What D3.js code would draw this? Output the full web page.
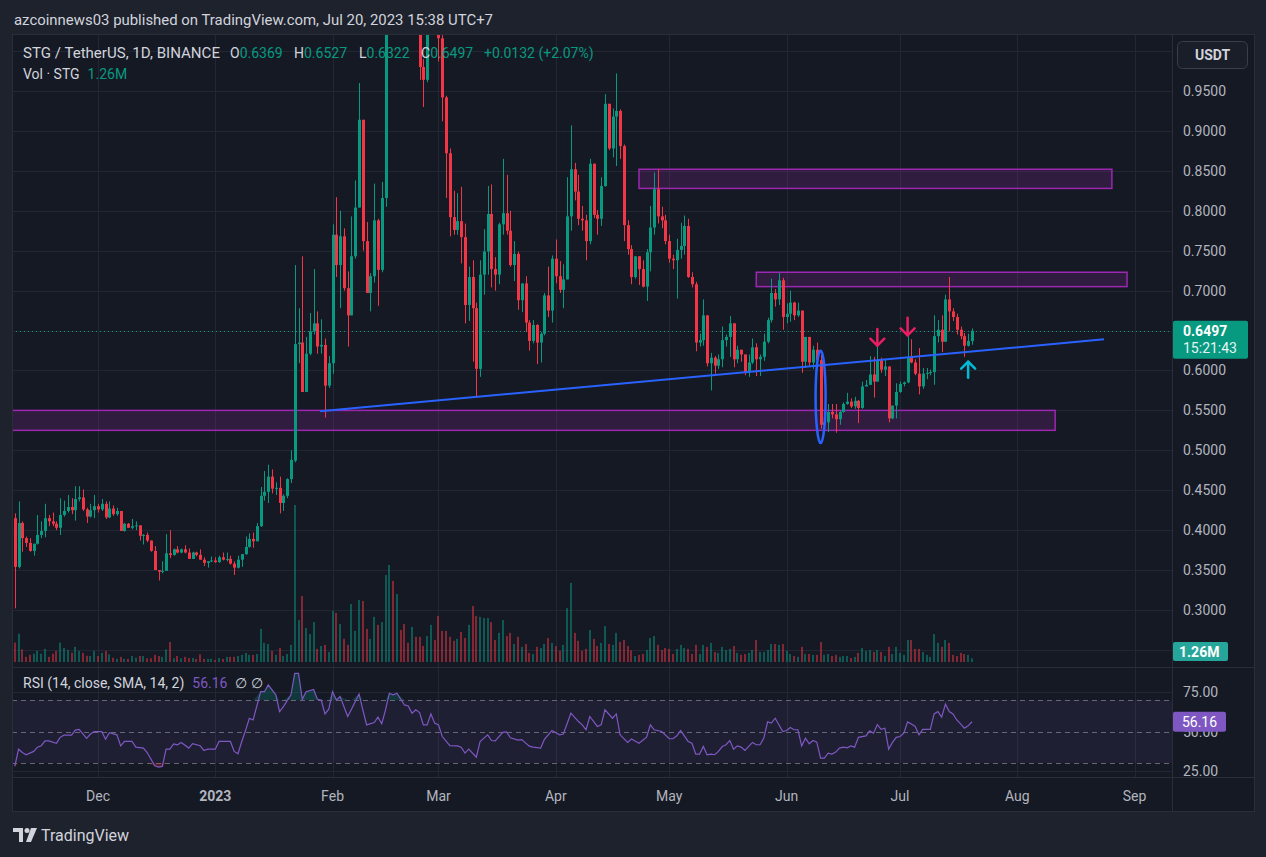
<!DOCTYPE html>
<html><head><meta charset="utf-8">
<script src="https://cdn.jsdelivr.net/npm/d3@7"></script>
<style>
html,body{margin:0;padding:0;background:#1e222d;}
svg{display:block;}
text{font-family:Roboto,"Liberation Sans",sans-serif;}
</style></head><body>
<svg id="chart" width="1266" height="857"></svg>
<script>
// ---------------- DATA ----------------
const firstDay = "2022-11-09"; // daily candles, one per day
// [open, high, low, close]
const ohlc = [
[.415,.421,.302,.354],[.354,.436,.352,.409],[.409,.411,.373,.390],[.390,.392,.379,.384],[.384,.390,.373,.374],
[.374,.383,.368,.383],[.383,.419,.382,.394],[.394,.411,.390,.399],[.399,.433,.391,.415],[.415,.419,.405,.411],
[.411,.422,.405,.408],[.408,.411,.400,.403],[.403,.440,.394,.419],[.419,.437,.417,.424],[.424,.444,.422,.429],
[.429,.440,.420,.425],[.425,.455,.412,.439],[.439,.455,.436,.441],[.441,.451,.424,.426],[.426,.428,.409,.417],
[.417,.433,.416,.425],[.425,.444,.415,.430],[.430,.433,.422,.426],[.426,.439,.424,.433],[.433,.436,.414,.416],
[.416,.436,.415,.427],[.427,.431,.418,.420],[.420,.428,.418,.424],[.424,.424,.399,.399],[.399,.409,.398,.408],
[.408,.409,.403,.403],[.403,.414,.401,.405],[.405,.411,.400,.406],[.406,.406,.387,.393],[.393,.395,.382,.394],
[.394,.397,.385,.387],[.387,.387,.373,.374],[.374,.380,.350,.350],[.350,.350,.337,.348],[.348,.361,.346,.349],
[.349,.395,.349,.371],[.371,.400,.365,.369],[.369,.377,.368,.376],[.376,.380,.371,.372],[.372,.377,.371,.376],
[.376,.381,.371,.372],[.372,.377,.364,.364],[.364,.373,.364,.372],[.372,.373,.367,.369],[.369,.376,.363,.363],
[.363,.366,.355,.359],[.359,.361,.353,.361],[.361,.367,.360,.362],[.362,.366,.359,.360],[.360,.368,.359,.366],
[.366,.372,.362,.363],[.363,.372,.361,.364],[.364,.368,.357,.358],[.358,.361,.344,.353],[.353,.368,.352,.363],
[.363,.370,.354,.370],[.370,.392,.369,.379],[.379,.396,.378,.389],[.389,.397,.378,.386],[.386,.409,.386,.405],
[.405,.454,.404,.443],[.443,.474,.437,.448],[.448,.482,.434,.467],[.467,.476,.446,.452],[.452,.460,.444,.453],
[.453,.467,.421,.434],[.434,.445,.424,.443],[.443,.465,.440,.464],[.464,.500,.459,.488],[.487,.732,.485,.633],
[.633,.678,.609,.635],[.635,.743,.573,.573],[.573,.642,.573,.621],[.621,.672,.619,.649],[.649,.727,.645,.659],
[.659,.674,.621,.630],[.630,.664,.621,.632],[.632,.640,.541,.581],[.581,.618,.578,.609],[.609,.783,.596,.770],
[.770,.817,.717,.732],[.732,.800,.678,.768],[.768,.778,.700,.703],[.703,.724,.630,.669],[.669,.793,.669,.743],
[.743,.838,.740,.804],[.804,.960,.804,.914],[.914,.914,.750,.762],[.762,.786,.697,.697],[.697,.722,.674,.718],
[.718,.834,.710,.788],[.788,.790,.681,.726],[.726,.836,.723,.816],[.816,1.09,.805,1.06],[1.06,1.19,1.05,1.15],
[1.15,1.17,1.07,1.10],[1.10,1.20,1.08,1.16],[1.16,1.18,1.09,1.11],[1.11,1.13,1.05,1.08],[1.08,1.10,1.04,1.06],
[1.06,1.12,1.04,1.10],[1.10,1.12,1.04,1.06],[1.06,1.08,.964,.980],[.980,.990,.930,.964],[.964,1.06,.961,1.04],
[1.04,1.09,1.03,1.07],[1.07,1.08,1.03,1.05],[1.05,1.06,.987,1.016],[1.016,1.03,.912,.942],[.942,.944,.816,.872],
[.872,.878,.768,.792],[.792,.825,.770,.776],[.776,.822,.770,.787],[.787,.830,.734,.767],[.767,.784,.659,.682],
[.682,.730,.662,.717],[.717,.738,.611,.678],[.678,.685,.566,.602],[.602,.738,.592,.720],[.720,.777,.695,.749],
[.749,.831,.720,.796],[.796,.833,.704,.727],[.727,.742,.700,.720],[.720,.785,.708,.783],[.783,.865,.770,.797],
[.797,.845,.770,.775],[.775,.800,.730,.732],[.732,.762,.712,.746],[.746,.749,.676,.688],[.688,.709,.673,.709],
[.709,.718,.648,.660],[.660,.663,.625,.637],[.637,.663,.634,.657],[.657,.658,.608,.635],[.635,.648,.610,.646],
[.646,.697,.644,.694],[.694,.730,.667,.675],[.675,.744,.660,.740],[.740,.764,.709,.718],[.718,.737,.697,.701],
[.701,.733,.678,.714],[.714,.842,.714,.793],[.793,.907,.775,.852],[.852,.860,.813,.824],[.824,.845,.782,.790],
[.790,.806,.775,.788],[.788,.795,.738,.762],[.762,.865,.758,.859],[.859,.859,.791,.795],[.795,.801,.770,.790],
[.790,.842,.781,.831],[.831,.946,.830,.934],[.934,.934,.876,.878],[.878,.928,.867,.918],[.918,.972,.856,.925],
[.925,.927,.865,.881],[.881,.883,.762,.782],[.782,.788,.745,.752],[.752,.757,.708,.717],[.717,.743,.715,.743],
[.743,.743,.707,.727],[.727,.738,.704,.705],[.705,.752,.687,.748],[.748,.806,.724,.779],[.779,.848,.770,.827],
[.827,.852,.784,.793],[.793,.805,.778,.788],[.788,.795,.758,.762],[.762,.770,.735,.740],[.740,.745,.727,.738],
[.738,.765,.690,.751],[.751,.785,.740,.756],[.756,.794,.745,.781],[.781,.790,.716,.717],[.717,.723,.704,.708],
[.708,.711,.624,.635],[.635,.646,.630,.638],[.638,.689,.631,.669],[.669,.669,.605,.609],[.609,.622,.575,.616],
[.616,.618,.596,.606],[.606,.620,.602,.614],[.614,.655,.604,.638],[.638,.645,.630,.642],[.642,.668,.617,.659],
[.659,.659,.604,.614],[.614,.631,.609,.626],[.626,.626,.611,.620],[.620,.620,.594,.598],[.598,.620,.592,.610],
[.610,.640,.608,.629],[.629,.634,.593,.614],[.614,.620,.593,.617],[.617,.646,.612,.636],[.636,.666,.634,.663],
[.663,.715,.660,.697],[.697,.702,.680,.689],[.689,.722,.682,.713],[.713,.716,.651,.667],[.667,.684,.659,.671],
[.671,.700,.661,.685],[.685,.686,.663,.669],[.669,.685,.667,.675],[.675,.675,.597,.611],[.611,.642,.603,.642],
[.642,.642,.605,.610],[.610,.631,.602,.626],[.626,.635,.608,.613],[.613,.620,.527,.532],[.532,.546,.526,.535],
[.535,.558,.523,.548],[.548,.558,.540,.545],[.545,.558,.522,.539],[.539,.550,.532,.548],[.548,.560,.547,.558],
[.558,.572,.557,.561],[.561,.565,.553,.555],[.555,.567,.552,.562],[.562,.563,.534,.553],[.553,.586,.552,.580],
[.580,.588,.580,.582],[.582,.618,.582,.595],[.595,.617,.566,.586],[.586,.631,.586,.613],[.613,.616,.597,.601],
[.601,.614,.593,.605],[.605,.605,.535,.540],[.540,.556,.539,.556],[.556,.584,.540,.573],[.573,.586,.572,.583],
[.583,.586,.580,.585],[.585,.643,.584,.617],[.617,.639,.609,.610],[.610,.614,.594,.596],[.596,.628,.570,.580],
[.580,.603,.577,.596],[.596,.603,.589,.597],[.597,.601,.594,.598],[.598,.669,.582,.643],[.643,.663,.635,.651],
[.651,.669,.623,.636],[.636,.695,.636,.689],[.689,.717,.649,.674],[.674,.678,.662,.667],[.667,.671,.645,.651],
[.651,.655,.639,.643],[.643,.647,.617,.631],[.631,.646,.630,.6369],[.6369,.6527,.6322,.6497]
];
// volume, millions of STG
const volume = [
6.8,9.9,4.4,1.8,2.5,2.9,3.9,2.9,4.6,1.8, 2.9,3.9,6.8,4.9,4.2,3.3,5.3,3.9,3.2,2.2,
2.1,3.9,2.1,3.2,3.9,2.7,1.5,1.1,1.8,1.1, 1.1,2.1,1.5,2.1,2.1,1.3,1.3,2.5,2.1,1.8,
4.4,7.0,1.3,2.1,1.3,1.8,1.4,1.4,1.1,2.7, 1.1,1.1,1.1,0.7,1.4,1.1,1.8,1.8,1.8,2.1,
2.5,3.2,2.5,2.5,2.8,11.6,6.7,6.3,3.9,2.5, 4.9,2.1,2.8,6.0,55.0,14.7,23.1,11.9,9.8,14.0,
4.6,5.6,6.0,3.5,17.9,17.2,13.3,8.1,6.0,20.3, 10.9,21.7,21.4,11.6,8.1,15.8,13.0,14.0,30.5,34.0,
28.4,23.8,11.2,13.3,6.7,12.3,8.8,8.8,5.6,9.1, 13.0,7.7,16.1,10.9,10.9,8.8,7.4,8.1,10.5,8.4,
13.0,19.6,16.1,15.8,15.4,15.4,14.0,7.7,10.2,14.7, 9.1,10.2,6.3,8.8,5.3,6.3,3.2,2.8,5.3,4.9,
6.3,8.4,6.7,5.6,3.9,6.0,18.9,27.7,10.2,7.4, 3.9,4.6,11.2,8.1,5.6,6.7,12.6,6.3,6.0,10.2,
7.0,7.7,5.6,4.1,2.1,2.5,2.8,4.2,8.4,9.1, 6.0,4.2,4.9,4.6,2.8,4.6,6.0,4.9,4.6,2.8,
6.0,2.8,6.0,5.3,6.7,3.5,3.2,5.3,4.2,4.6, 5.6,3.2,2.5,2.8,3.2,4.2,7.7,3.5,3.5,4.2,
6.3,6.3,6.0,6.3,3.9,2.8,2.1,1.8,5.3,2.8, 2.8,2.5,2.5,7.0,2.5,2.8,2.1,2.5,1.8,2.1,
2.1,1.4,1.8,3.2,4.9,3.9,4.2,3.5,4.2,3.5, 2.1,5.3,2.8,5.3,3.2,2.5,7.7,7.7,4.6,4.6,
3.5,2.5,1.8,9.8,6.7,5.3,7.7,6.7,2.5,2.1, 3.2,2.8,2.5,1.26
];
// RSI(14) readings: [candle number (1 = first candle), value]
const rsiPoints = [
[1,27.9],[2,38.8],[3,36.7],[4,35.3],[6,37.4],[7,40.1],[8,41.0],[9,44.1],[10,44.1],[12,42.5],[13,46.3],[14,47.7],[16,47.7],
[17,50.9],[18,51.4],[20,45.7],[21,48.4],[22,49.9],[24,49.9],[25,45.1],[26,49.3],[28,47.9],[29,40.9],[30,43.7],[32,43.7],
[33,40.1],[35,39.5],[36,36.7],[38,28.3],[39,27.5],[40,27.9],[41,38.8],[42,38.8],[43,42.1],[44,41.6],[45,43.1],[47,39.5],
[48,42.3],[50,41.0],[51,38.0],[52,38.8],[54,38.8],[55,43.7],[57,43.7],[58,43.7],[59,37.4],[60,35.9],[61,43.7],[62,50.6],
[63,58.4],[64,57.3],[66,75.2],[67,75.2],[68,79.5],[70,73.2],[71,62.6],[72,65.8],[74,73.2],[75,86.8],[76,86.8],[77,70.4],
[78,75.2],[80,76.6],[81,70.4],[82,69.9],[83,61.1],[84,64.1],[85,75.2],[86,69.9],[87,72.1],[89,59.5],[90,64.1],[92,73.8],
[93,63.7],[94,54.2],[96,55.7],[97,59.1],[98,54.9],[99,63.7],[100,74.2],[101,73.2],[102,74.2],[104,66.8],[105,66.2],
[106,61.6],[107,63.7],[108,62.0],[109,54.2],[110,54.2],[111,61.1],[112,55.3],[113,54.2],[114,46.8],[116,41.1],[118,40.9],
[119,40.1],[120,36.3],[121,38.8],[123,33.7],[124,43.7],[126,47.9],[127,44.3],[128,44.1],[130,49.5],[131,49.7],[132,46.0],
[134,44.5],[135,44.9],[137,40.7],[138,40.1],[140,39.5],[141,45.1],[143,50.6],[145,47.9],[146,48.4],[148,61.6],[150,56.3],
[151,54.2],[152,51.1],[153,59.5],[155,53.2],[156,54.2],[157,63.7],[159,58.4],[160,61.1],[161,47.9],[163,43.1],[164,45.2],
[166,42.6],[168,46.4],[169,54.2],[170,51.1],[172,50.0],[174,45.4],[175,45.4],[176,47.3],[177,50.6],[179,43.7],[180,42.6],
[181,35.7],[182,35.7],[183,40.5],[184,35.3],[185,35.7],[186,35.3],[187,37.4],[188,40.5],[189,41.6],[190,44.3],[191,38.8],
[192,40.9],[193,40.1],[194,38.0],[196,43.1],[197,41.6],[198,41.6],[199,45.8],[200,56.1],[201,55.3],[202,58.4],[204,50.0],
[205,50.6],[206,52.5],[207,51.1],[208,51.1],[209,40.9],[210,45.8],[211,42.2],[212,44.3],[213,43.3],[214,33.2],[215,33.2],
[216,36.3],[217,35.7],[218,37.0],[219,39.5],[220,40.1],[221,39.7],[222,40.9],[223,40.1],[224,46.3],[226,47.2],[227,50.4],
[228,48.9],[229,54.4],[230,51.4],[231,52.1],[232,38.8],[233,43.1],[234,46.3],[235,46.8],[236,48.9],[237,56.1],[238,54.8],
[239,53.2],[240,47.9],[241,51.4],[242,51.4],[243,51.4],[244,61.1],[245,62.6],[246,59.1],[247,67.3],[248,62.6],[249,61.1],
[250,57.3],[251,54.8],[252,52.1],[253,53.6],[254,56.16]
];
const priceTicks = [0.30,0.35,0.40,0.45,0.50,0.55,0.60,0.65,0.70,0.75,0.80,0.85,0.90,0.95];
const priceGrid = [0.25,0.30,0.35,0.40,0.45,0.50,0.55,0.60,0.65,0.70,0.75,0.80,0.85,0.90,0.95,1.00];
const monthTicks = ["2022-12-01","2023-01-01","2023-02-01","2023-03-01","2023-04-01","2023-05-01","2023-06-01","2023-07-01","2023-08-01","2023-09-01"];
const monthLabels = ["Dec","2023","Feb","Mar","Apr","May","Jun","Jul","Aug","Sep"];
const rsiLabelTicks = [75, 50, 25];
const rsiDashed = [70, 50, 30];
const lastPrice = 0.6497, lastVolume = 1.26, lastRsi = 56.16;
const zones = [
  {from:"2023-04-23", to:"2023-08-26", top:0.852, bottom:0.828},
  {from:"2023-05-24", to:"2023-08-30", top:0.723, bottom:0.705},
  {from:"2022-10-20", to:"2023-08-11", top:0.550, bottom:0.525}
];
const trendLine = [{date:"2023-01-28T17:00:00Z", price:0.549},{date:"2023-08-23T22:00:00Z", price:0.639}];
const circled = {date:"2023-06-10", top:0.625, bottom:0.509};
const arrows = [
  {date:"2023-06-25", tip:0.631, tail:0.652, dir:"down"},
  {date:"2023-07-03", tip:0.644, tail:0.666, dir:"down"},
  {date:"2023-07-19", tip:0.611, tail:0.591, dir:"up"}
];
if (ohlc.length !== 254 || volume.length !== 254) throw new Error("length " + ohlc.length + " " + volume.length);

// ---------------- LAYOUT ----------------
const C = {bg:"#151924", outer:"#1e222d", grid:"#232733", border:"#2a2e39", text:"#b2b5be", text2:"#d1d4dc",
  up:"#089981", down:"#f23645", upVol:"rgba(8,153,129,0.5)", downVol:"rgba(242,54,69,0.5)", rsi:"#7e57c2"};
const L = {left:12, right:1172, axisRight:1255, top:34, mainBottom:667, rsiBottom:777, bottom:812};

const svg = d3.select("#chart");
svg.append("rect").attr("width",1266).attr("height",857).attr("fill",C.outer);
svg.append("rect").attr("x",L.left).attr("y",L.top).attr("width",L.axisRight-L.left).attr("height",L.bottom-L.top).attr("fill",C.bg);

const dates = ohlc.map((d,i)=>d3.utcDay.offset(new Date(firstDay), i));
const x = d3.scaleUtc().domain([new Date("2022-12-01"), new Date("2023-09-01")]).range([98, 1134.6]);
const y = d3.scaleLinear().domain([0.30,0.95]).range([610,91]);
const yVol = d3.scaleLinear().domain([0,55]).range([662,505]);
const yR = d3.scaleLinear().domain([25,75]).range([771,692]);

const defs = svg.append("defs");
defs.append("clipPath").attr("id","mainClip").append("rect").attr("x",L.left).attr("y",L.top).attr("width",L.right-L.left).attr("height",L.mainBottom-L.top);
defs.append("clipPath").attr("id","rsiClip").append("rect").attr("x",L.left).attr("y",L.mainBottom+1).attr("width",L.right-L.left).attr("height",L.rsiBottom-L.mainBottom-1);

// grid
const grid = svg.append("g");
grid.selectAll(".hg").data(priceGrid).join("line")
  .attr("x1",L.left).attr("x2",L.right).attr("y1",d=>Math.round(y(d))+0.5).attr("y2",d=>Math.round(y(d))+0.5)
  .attr("stroke",C.grid).attr("stroke-width",1);
grid.selectAll(".vg").data(monthTicks).join("line")
  .attr("x1",d=>Math.round(x(new Date(d)))+0.5).attr("x2",d=>Math.round(x(new Date(d)))+0.5)
  .attr("y1",L.top).attr("y2",L.rsiBottom).attr("stroke",C.grid).attr("stroke-width",1);
grid.selectAll(".rg").data([75,25]).join("line")
  .attr("x1",L.left).attr("x2",L.right).attr("y1",d=>Math.round(yR(d))+0.5).attr("y2",d=>Math.round(yR(d))+0.5)
  .attr("stroke",C.grid);

// main pane
const main = svg.append("g").attr("clip-path","url(#mainClip)");
main.selectAll(".zone").data(zones).join("rect")
  .attr("x",d=>x(new Date(d.from))).attr("width",d=>x(new Date(d.to))-x(new Date(d.from)))
  .attr("y",d=>y(d.top)).attr("height",d=>y(d.bottom)-y(d.top))
  .attr("fill","rgba(156,39,176,0.2)").attr("stroke","#9c27b0").attr("stroke-width",1.5);

main.selectAll(".vol").data(volume).join("rect")
  .attr("x",(d,i)=>Math.round(x(dates[i]))-1).attr("width",2)
  .attr("y",d=>yVol(d)).attr("height",d=>Math.max(0.5,yVol(0)-yVol(d)))
  .attr("fill",(d,i)=>ohlc[i][3]>=ohlc[i][0]?C.upVol:C.downVol);

main.append("line").attr("x1",L.left).attr("x2",L.right).attr("y1",Math.round(y(lastPrice))+0.5).attr("y2",Math.round(y(lastPrice))+0.5)
  .attr("stroke",C.up).attr("stroke-dasharray","1,3");

const cg = main.selectAll(".c").data(ohlc).join("g");
cg.append("line")
  .attr("x1",(d,i)=>Math.round(x(dates[i]))+0.5).attr("x2",(d,i)=>Math.round(x(dates[i]))+0.5)
  .attr("y1",d=>y(d[1])).attr("y2",d=>y(d[2]))
  .attr("stroke",d=>d[3]>=d[0]?C.up:C.down).attr("stroke-width",1);
cg.append("rect")
  .attr("x",(d,i)=>Math.round(x(dates[i]))-1).attr("width",3)
  .attr("y",d=>y(Math.max(d[0],d[3])))
  .attr("height",d=>Math.max(1,Math.abs(y(d[0])-y(d[3]))))
  .attr("fill",d=>d[3]>=d[0]?C.up:C.down);

main.append("line")
  .attr("x1",x(new Date(trendLine[0].date))).attr("y1",y(trendLine[0].price))
  .attr("x2",x(new Date(trendLine[1].date))).attr("y2",y(trendLine[1].price))
  .attr("stroke","#2962ff").attr("stroke-width",2);
main.append("ellipse")
  .attr("cx",x(new Date(circled.date))).attr("cy",(y(circled.top)+y(circled.bottom))/2)
  .attr("rx",5).attr("ry",(y(circled.bottom)-y(circled.top))/2)
  .attr("fill","none").attr("stroke","#2962ff").attr("stroke-width",2.5);
arrows.forEach(a=>{
  const ax = x(new Date(a.date)), ty = y(a.tip), tl = y(a.tail);
  const s = a.dir==="down" ? 1 : -1; // arms sit behind the tip
  const col = a.dir==="down" ? "#e91e63" : "#00bcd4";
  const g = main.append("g").attr("stroke",col).attr("stroke-width",2.5).attr("fill","none").attr("stroke-linecap","round").attr("stroke-linejoin","round");
  g.append("line").attr("x1",ax).attr("x2",ax).attr("y1",tl).attr("y2",ty);
  g.append("polyline").attr("points",`${ax-7},${ty-s*7} ${ax},${ty} ${ax+7},${ty-s*7}`);
});

// RSI pane
const rsiG = svg.append("g").attr("clip-path","url(#rsiClip)");
rsiG.append("rect").attr("x",L.left).attr("width",L.right-L.left).attr("y",yR(70)).attr("height",yR(30)-yR(70))
  .attr("fill","rgba(126,87,194,0.1)");
rsiG.selectAll(".rd").data(rsiDashed).join("line")
  .attr("x1",L.left).attr("x2",L.right).attr("y1",d=>Math.round(yR(d))+0.5).attr("y2",d=>Math.round(yR(d))+0.5)
  .attr("stroke","#787b86").attr("stroke-dasharray","5,4").attr("stroke-opacity",0.8);
const rx = d=>x(d3.utcDay.offset(new Date(firstDay), d[0]-1));
rsiG.append("path").datum(rsiPoints)
  .attr("d",d3.area().x(rx).y0(yR(70)).y1(d=>yR(Math.max(70,d[1]))))
  .attr("fill","rgba(8,153,129,0.25)");
rsiG.append("path").datum(rsiPoints)
  .attr("d",d3.area().x(rx).y0(yR(30)).y1(d=>yR(Math.min(30,d[1]))))
  .attr("fill","rgba(242,54,69,0.25)");
rsiG.append("path").datum(rsiPoints)
  .attr("d",d3.line().x(rx).y(d=>yR(d[1])))
  .attr("fill","none").attr("stroke",C.rsi).attr("stroke-width",1.2);

// frame lines
const fr = svg.append("g").attr("stroke",C.border).attr("stroke-width",1);
fr.append("rect").attr("x",L.left+0.5).attr("y",L.top+0.5).attr("width",L.axisRight-L.left-1).attr("height",L.bottom-L.top-1).attr("fill","none");
fr.append("line").attr("x1",L.right+0.5).attr("x2",L.right+0.5).attr("y1",L.top).attr("y2",L.bottom);
fr.append("line").attr("x1",L.left).attr("x2",L.axisRight).attr("y1",L.mainBottom+0.5).attr("y2",L.mainBottom+0.5);
fr.append("line").attr("x1",L.left).attr("x2",L.axisRight).attr("y1",L.rsiBottom+0.5).attr("y2",L.rsiBottom+0.5);

// price axis labels
const ax = svg.append("g").attr("font-size",14).attr("fill",C.text);
ax.selectAll(".pl").data(priceTicks).join("text")
  .attr("x",1183).attr("y",d=>y(d)+5).text(d=>d.toFixed(4));
svg.append("rect").attr("x",1177.5).attr("y",41.5).attr("width",70).attr("height",27).attr("rx",5)
  .attr("fill","#1a1e29").attr("stroke","#3a3e4a");
svg.append("text").attr("x",1212.5).attr("y",60).attr("text-anchor","middle").attr("font-size",14).attr("font-weight","bold")
  .attr("fill",C.text2).text("USDT");
const lp = y(lastPrice);
svg.append("rect").attr("x",1173).attr("y",lp-10).attr("width",75).attr("height",38).attr("rx",2).attr("fill",C.up);
svg.append("text").attr("x",1183).attr("y",lp+5).attr("font-size",14).attr("font-weight","bold").attr("fill","#fff").text(lastPrice.toFixed(4));
svg.append("text").attr("x",1183).attr("y",lp+22).attr("font-size",14).attr("fill","#e6f4f1").text("15:21:43");
svg.append("rect").attr("x",1173).attr("y",642).attr("width",55).attr("height",19).attr("rx",2).attr("fill","#26a69a");
svg.append("text").attr("x",1179).attr("y",656.5).attr("font-size",14).attr("font-weight","bold").attr("fill","#fff").text(lastVolume.toFixed(2)+"M");
// RSI axis labels (50.00 sits partly under the current-value tag, as in the source)
ax.selectAll(".rl").data(rsiLabelTicks).join("text")
  .attr("x",1183).attr("y",d=>yR(d)+5).text(d=>d.toFixed(2));
const rl = yR(lastRsi);
svg.append("rect").attr("x",1173).attr("y",rl-10).attr("width",53).attr("height",20).attr("rx",2).attr("fill",C.rsi);
svg.append("text").attr("x",1199.5).attr("y",rl+5).attr("text-anchor","middle").attr("font-size",14).attr("fill","#fff").text(lastRsi.toFixed(2));

// time axis labels
svg.append("g").selectAll("text").data(monthTicks).join("text")
  .attr("x",d=>x(new Date(d))).attr("y",801).attr("text-anchor","middle").attr("font-size",14)
  .attr("fill",C.text).attr("font-weight",(d,i)=>monthLabels[i]==="2023"?"bold":"normal")
  .text((d,i)=>monthLabels[i]);

// header
svg.append("text").attr("x",14).attr("y",25).attr("font-size",14.5).attr("fill",C.text2)
  .attr("textLength",479).attr("lengthAdjust","spacingAndGlyphs")
  .text("azcoinnews03 published on TradingView.com, Jul 20, 2023 15:38 UTC+7");
// legend
const last = ohlc[ohlc.length-1];
const leg = svg.append("g").attr("font-size",14);
leg.append("text").attr("x",23).attr("y",58).attr("fill",C.text2)
  .attr("textLength",197).attr("lengthAdjust","spacingAndGlyphs").text("STG / TetherUS, 1D, BINANCE");
const legItems = [["O",last[0],230],["H",last[1],294],["L",last[2],359],["C",last[3],421]];
legItems.forEach(([k,v,px])=>{
  const t = leg.append("text").attr("x",px).attr("y",58);
  t.append("tspan").attr("fill",C.text2).text(k);
  t.append("tspan").attr("fill",C.up).text(v.toFixed(4));
});
leg.append("text").attr("x",484).attr("y",58).attr("fill",C.up).text("+0.0132 (+2.07%)");
const l2 = leg.append("text").attr("x",23).attr("y",79);
l2.append("tspan").attr("fill",C.text2).text("Vol · STG");
l2.append("tspan").attr("fill",C.up).attr("dx",8).text(lastVolume.toFixed(2)+"M");
const rlg = svg.append("text").attr("x",23).attr("y",688).attr("font-size",14);
rlg.append("tspan").attr("fill",C.text2).text("RSI (14, close, SMA, 14, 2)");
rlg.append("tspan").attr("fill",C.rsi).attr("dx",8).text(lastRsi.toFixed(2));
rlg.append("tspan").attr("fill",C.text2).attr("dx",8).text("∅  ∅");

// footer logo
const logo = svg.append("g").attr("fill","#d1d4dc");
logo.append("path").attr("d","M13,828 h10 v14 h-4 v-10 h-6 z");
logo.append("circle").attr("cx",27).attr("cy",830.5).attr("r",2.5);
logo.append("path").attr("d","M31,828 h6 l-6,14 h-5 z");
svg.append("text").attr("x",41).attr("y",841).attr("font-size",16).attr("fill","#d1d4dc").text("TradingView");
</script>
</body></html>
